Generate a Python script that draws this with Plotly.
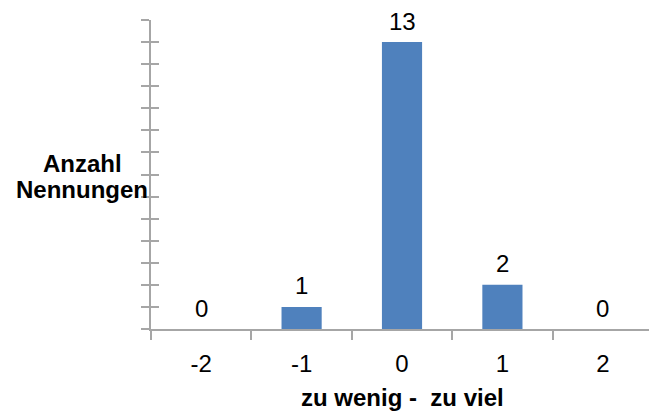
import plotly.graph_objects as go

# Rating scale and number of mentions per rating
ratings = [-2, -1, 0, 1, 2]
tick_labels = ["-2", "-1", "0", "1", "2"]
counts = [0, 1, 13, 2, 0]

bar_color = "#4f81bd"
axis_color = "#a6a6a6"
font_family = "Liberation Sans, Arial, sans-serif"
font_size = 24

x_range = [-2.5, 2.46]
y_range = [0, 14]

fig = go.Figure()

fig.add_trace(go.Bar(
    x=ratings,
    y=counts,
    width=0.4,
    marker=dict(color=bar_color, line=dict(width=0)),
    showlegend=False,
    hoverinfo="x+y",
))

# value labels above each bar
for r, c in zip(ratings, counts):
    fig.add_annotation(
        x=r, y=c, xref="x", yref="y",
        text=str(c), showarrow=False,
        xanchor="center", yanchor="middle", yshift=21,
        font=dict(size=font_size, color="#000000", family=font_family),
    )

fig.update_layout(
    width=649,
    height=412,
    margin=dict(l=151, r=0, t=20, b=83),
    paper_bgcolor="white",
    plot_bgcolor="white",
    font=dict(family=font_family, color="#000000"),
    xaxis=dict(
        range=x_range,
        tickvals=ratings,
        ticktext=tick_labels,
        ticks="",
        ticklabelstandoff=12,
        tickfont=dict(size=font_size),
        showline=True,
        linecolor=axis_color,
        linewidth=2,
        showgrid=False,
        zeroline=False,
    ),
    # category boundary ticks below the x axis
    xaxis2=dict(
        overlaying="x",
        matches="x",
        range=x_range,
        tickvals=[-2.5, -1.5, -0.5, 0.5, 1.5],
        showticklabels=False,
        ticks="outside",
        ticklen=10,
        tickwidth=2,
        tickcolor=axis_color,
        showline=False,
        showgrid=False,
        zeroline=False,
    ),
    yaxis=dict(
        range=y_range,
        tickvals=list(range(0, 15)),
        showticklabels=False,
        ticks="outside",
        ticklen=8,
        tickwidth=2,
        tickcolor=axis_color,
        showline=True,
        linecolor=axis_color,
        linewidth=2,
        showgrid=False,
        zeroline=False,
    ),
    # inward half of the crossing tick marks
    yaxis2=dict(
        overlaying="y",
        range=y_range,
        tickvals=list(range(0, 15)),
        showticklabels=False,
        ticks="inside",
        ticklen=8,
        tickwidth=2,
        tickcolor=axis_color,
        showline=False,
        showgrid=False,
        zeroline=False,
    ),
)

# invisible helper trace so the overlay axes are drawn
fig.add_trace(go.Scatter(x=[None], y=[None], xaxis="x2", yaxis="y2",
                         showlegend=False, hoverinfo="skip"))

# y-axis title, two centred lines to the left of the axis
for line, y_px in (("Anzahl", 163), ("Nennungen", 189)):
    fig.add_annotation(
        text="<b>%s</b>" % line,
        xref="paper", yref="paper",
        x=(82 - 151) / 498, y=(329 - y_px) / 309,
        xanchor="center", yanchor="middle",
        showarrow=False,
        font=dict(size=font_size, color="#000000", family=font_family),
    )

fig.add_annotation(
    text="<b>zu wenig -&nbsp; zu viel</b>",
    xref="x", yref="paper",
    x=0, y=-(397 - 329) / 309, xanchor="center", yanchor="middle",
    showarrow=False,
    font=dict(size=font_size, color="#000000", family=font_family),
)

fig.write_html("out.html")
